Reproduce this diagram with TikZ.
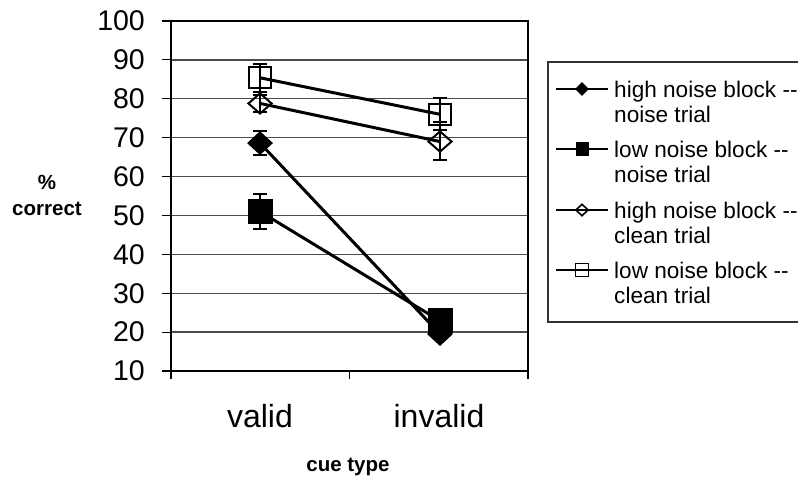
\documentclass[tikz,border=0pt]{standalone}
\usepackage{fontspec}
\setmainfont{Liberation Sans}
\usetikzlibrary{shapes.geometric,arrows.meta}
\begin{document}
\begin{tikzpicture}[x=1pt,y=-1pt,
  gridline/.style={draw=black!70,line width=1.3pt},
  tickmark/.style={draw=black,line width=1.2pt},
  plotframe/.style={draw=black,line width=2.8pt},
  series/.style={draw=black,line width=3pt},
  errbar/.style={draw=black,line width=2pt,{Bar[width=14pt,line width=2pt]}-{Bar[width=14pt,line width=2pt]}},
  fdia/.style={diamond,fill=black,draw=none,inner sep=0pt,minimum width=26pt,minimum height=24pt},
  odia/.style={diamond,draw=black,line width=2pt,inner sep=0pt,minimum width=24pt,minimum height=21pt},
  fsq/.style={rectangle,fill=black,draw=none,inner sep=0pt,minimum width=25pt,minimum height=25pt},
  osq/.style={rectangle,draw=black,line width=2pt,inner sep=0pt,minimum width=22pt,minimum height=21pt},
  lfdia/.style={diamond,fill=black,draw=none,inner sep=0pt,minimum width=14pt,minimum height=14pt},
  lodia/.style={diamond,draw=black,line width=1.6pt,inner sep=0pt,minimum width=13pt,minimum height=12pt},
  lfsq/.style={rectangle,fill=black,draw=none,inner sep=0pt,minimum width=13pt,minimum height=14pt},
  losq/.style={rectangle,draw=black,line width=1.6pt,inner sep=0pt,minimum width=13pt,minimum height=13pt},
  legline/.style={draw=black,line width=2pt},
  legbox/.style={draw=black!80,line width=1.3pt},
  ticklab/.style={anchor=east,inner sep=0pt,font=\fontsize{28.5}{30}\selectfont},
  catlab/.style={anchor=center,inner sep=0pt,font=\fontsize{32}{34}\selectfont},
  axlab/.style={inner sep=0pt,align=center,font=\fontsize{20.5}{26}\selectfont\bfseries},
  legtext/.style={anchor=west,inner sep=0pt,align=left,font=\fontsize{22.6}{25}\selectfont}]
\useasboundingbox (0,0) rectangle (798,477);
\fill[white] (0,0) rectangle (798,477);

\begin{scope}[shift={(0pt,-409.889pt)},y=3.8889pt]
  \foreach \v in {20,30,...,90} \draw[gridline] (171,\v) -- (528,\v);
  \foreach \v in {10,20,...,100} \draw[tickmark] (162,\v) -- (171,\v);
  \foreach \v in {10,20,...,100} \node[ticklab] (t\v) at (145,\v) {\v};
  \foreach \x in {171,349.5,528} \draw[tickmark] (\x,10) -- ++(0pt,-8pt);
  \draw[plotframe] (171,10) rectangle (528,100);

  % markers
  \node[fdia] (hnV) at (260,68.6) {};
  \node[fdia] (hnI) at (440,19.5) {};
  \node[fsq] (lnV) at (260,51.0) {};
  \node[fsq] (lnI) at (440,22.9) {};
  \node[odia] (hcV) at (260,78.8) {};
  \node[odia] (hcI) at (440,69.0) {};
  \node[osq] (lcV) at (260,85.4) {};
  \node[osq] (lcI) at (440,76.0) {};

  % series lines
  \draw[series] (hnV.center) -- (hnI.center);
  \draw[series] (lnV.center) -- (lnI.center);
  \draw[series] (hcV.center) -- (hcI.center);
  \draw[series] (lcV.center) -- (lcI.center);

  % error bars
  \draw[errbar] (260,65.3) -- (260,72.0);
  \draw[errbar] (260,46.3) -- (260,55.8);
  \draw[errbar] (260,76.3) -- (260,81.2);
  \draw[errbar] (260,81.6) -- (260,89.2);
  \draw[errbar] (440,64.0) -- (440,74.4);
  \draw[errbar] (440,71.6) -- (440,80.5);
\end{scope}

% axis labels
\node[catlab] (valid) at (260,416) {valid};
\node[catlab] (invalid) at (439,416) {invalid};
\node[axlab,anchor=base] (xlab) at (348,471) {cue type};
\node[axlab] (ylab) at (47,195) {\%\\correct};

% legend
\draw[legbox] (805,62) -- (548,62) -- (548,322) -- (805,322);
\coordinate (a1) at (556,89);  \coordinate (b1) at (608,89);
\coordinate (a2) at (556,149); \coordinate (b2) at (608,149);
\coordinate (a3) at (556,210); \coordinate (b3) at (608,210);
\coordinate (a4) at (556,270); \coordinate (b4) at (608,270);
\draw[legline] (a1) -- (b1);
\draw[legline] (a2) -- (b2);
\draw[legline] (a3) -- (b3);
\draw[legline] (a4) -- (b4);
\node[lfdia] (m1) at (582,89) {};
\node[lfsq] (m2) at (582,149) {};
\node[lodia] (m3) at (582,210) {};
\node[losq] (m4) at (582,270) {};
\node[legtext] (e1) at (614,101.5) {high noise block -\kern0pt-\\noise trial};
\node[legtext] (e2) at (614,161.5) {low noise block -\kern0pt-\\noise trial};
\node[legtext] (e3) at (614,222.5) {high noise block -\kern0pt-\\clean trial};
\node[legtext] (e4) at (614,282.5) {low noise block -\kern0pt-\\clean trial};
\end{tikzpicture}
\end{document}
